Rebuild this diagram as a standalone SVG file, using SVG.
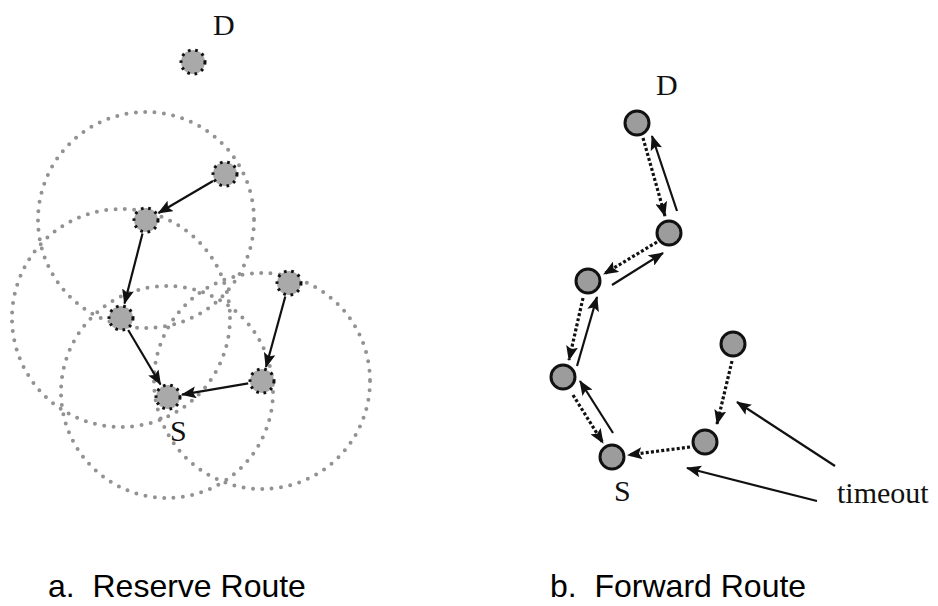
<svg xmlns="http://www.w3.org/2000/svg" width="938" height="606" viewBox="0 0 938 606">
<style>
.bg{fill:#ffffff}
.range{fill:none;stroke:#929292;stroke-width:4;stroke-dasharray:0 9.4;stroke-linecap:round}
.ln{fill:#a9a9a9;stroke:#111;stroke-width:3;stroke-dasharray:2.6 4.7}
.rn{fill:#9c9c9c;stroke:#111;stroke-width:3}
.solid{fill:none;stroke:#111;stroke-width:2.2;marker-end:url(#ah)}
.dot{fill:none;stroke:#111;stroke-width:3.2;stroke-dasharray:3 2.2;marker-end:url(#ah)}
.serif{font-family:"Liberation Serif","Times New Roman",serif;font-size:30px;fill:#111}
.cap{font-family:"Liberation Sans",Arial,sans-serif;font-size:32px;fill:#000}
</style>
<defs>
<marker id="ah" markerUnits="userSpaceOnUse" markerWidth="16" markerHeight="12" refX="14" refY="6" orient="auto">
<path d="M0,0 L15,6 L0,12 L3,6 z" fill="#111"/>
</marker>
</defs>
<rect class="bg" x="0" y="0" width="938" height="606"/>

<g id="ranges">
<circle class="range" cx="146" cy="220" r="108"/>
<circle class="range" cx="121" cy="318" r="109"/>
<circle class="range" cx="167" cy="392" r="106"/>
<circle class="range" cx="262" cy="381" r="108"/>
</g>

<g id="connectors">
<line class="solid" x1="213" y1="181" x2="158.5" y2="213"/>
<line class="solid" x1="142.5" y1="233.6" x2="124.5" y2="303.5"/>
<line class="solid" x1="128.2" y1="330" x2="160.5" y2="384.5"/>
<line class="solid" x1="285.3" y1="296.5" x2="266" y2="367"/>
<line class="solid" x1="248.2" y1="383.4" x2="182" y2="394.7"/>

<line class="dot" x1="643" y1="138" x2="665" y2="216"/>
<line class="solid" x1="677" y1="211" x2="652" y2="136"/>
<line class="dot" x1="657" y1="242" x2="604" y2="274"/>
<line class="solid" x1="612" y1="285" x2="663" y2="253"/>
<line class="dot" x1="583" y1="298" x2="569" y2="360"/>
<line class="solid" x1="577" y1="366" x2="597" y2="297"/>
<line class="dot" x1="573" y1="395" x2="603" y2="443"/>
<line class="solid" x1="613" y1="433" x2="580" y2="381"/>
<line class="dot" x1="690" y1="447" x2="628" y2="455"/>
<line class="dot" x1="732" y1="361" x2="717" y2="424"/>

<line class="solid" x1="835" y1="466" x2="737" y2="402"/>
<line class="solid" x1="817" y1="501" x2="687" y2="468"/>
</g>

<g id="left-D"><circle class="ln" cx="193" cy="62" r="12"/><text class="serif" x="213" y="35">D</text></g>
<g id="left-n1"><circle class="ln" cx="225" cy="174" r="12"/></g>
<g id="left-n2"><circle class="ln" cx="146" cy="220" r="12"/></g>
<g id="left-n3"><circle class="ln" cx="121" cy="318" r="12"/></g>
<g id="left-S"><circle class="ln" cx="168" cy="397" r="12"/><text class="serif" x="170" y="441">S</text></g>
<g id="left-n4"><circle class="ln" cx="289" cy="283" r="12"/></g>
<g id="left-n5"><circle class="ln" cx="262" cy="381" r="12"/></g>

<g id="right-D"><circle class="rn" cx="637" cy="123" r="12"/><text class="serif" x="656" y="95">D</text></g>
<g id="right-n1"><circle class="rn" cx="669" cy="233" r="12"/></g>
<g id="right-n2"><circle class="rn" cx="588" cy="281" r="12"/></g>
<g id="right-n3"><circle class="rn" cx="563" cy="377" r="12"/></g>
<g id="right-S"><circle class="rn" cx="612" cy="457" r="12"/><text class="serif" x="614" y="501">S</text></g>
<g id="right-n4"><circle class="rn" cx="705" cy="442" r="12"/></g>
<g id="right-n5"><circle class="rn" cx="733" cy="344" r="12"/></g>

<g id="timeout"><text class="serif" x="837" y="503">timeout</text></g>

<text class="cap" x="48" y="597" xml:space="preserve">a.  Reserve Route</text>
<text class="cap" x="550" y="597" xml:space="preserve">b.  Forward Route</text>
</svg>
